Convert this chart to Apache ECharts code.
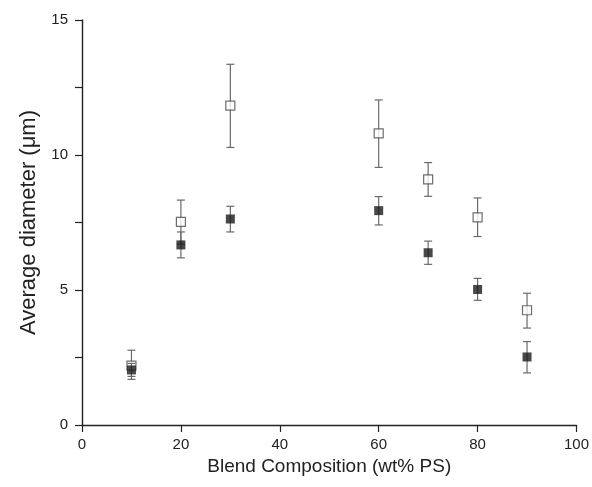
<!DOCTYPE html>
<html><head><meta charset="utf-8">
<script src="https://cdn.jsdelivr.net/npm/echarts@6/dist/echarts.min.js"></script>
<style>html,body{margin:0;padding:0;background:#fff}#c{width:592px;height:487px}</style>
</head><body><div id="c"></div>
<script>
const composition = [10, 20, 30, 60, 70, 80, 90];
const openMean = [2.2, 7.52, 11.83, 10.8, 9.1, 7.69, 4.25];
const openLow  = [1.8, 6.7, 10.28, 9.54, 8.47, 6.98, 3.59];
const openHigh = [2.77, 8.33, 13.36, 12.04, 9.72, 8.41, 4.88];
const filledMean = [2.04, 6.67, 7.63, 7.94, 6.38, 5.02, 2.52];
const filledLow  = [1.69, 6.19, 7.15, 7.41, 5.95, 4.62, 1.93];
const filledHigh = [2.28, 7.15, 8.1, 8.46, 6.81, 5.43, 3.09];
const yTicks = [0, 5, 10, 15];
const xTicks = [0, 20, 40, 60, 80, 100];

const font = '"Liberation Sans", Arial, sans-serif';
function errData(low, high){ return composition.map((x,i)=>[x, low[i], high[i]]); }
function errSeries(low, high, z){
  return {
    type:'custom', z:z, silent:true,
    data: errData(low, high),
    renderItem: function(params, api){
      const x = api.value(0);
      const lo = api.coord([x, api.value(1)]);
      const hi = api.coord([x, api.value(2)]);
      const w = 4;
      const st = {stroke:'#6a6a6a', lineWidth:1.2};
      return {type:'group', children:[
        {type:'line', shape:{x1:lo[0],y1:lo[1],x2:hi[0],y2:hi[1]}, style:st},
        {type:'line', shape:{x1:lo[0]-w,y1:lo[1],x2:lo[0]+w,y2:lo[1]}, style:st},
        {type:'line', shape:{x1:hi[0]-w,y1:hi[1],x2:hi[0]+w,y2:hi[1]}, style:st}
      ]};
    }
  };
}
const chart = echarts.init(document.getElementById('c'), null, {renderer:'canvas'});
chart.setOption({
  animation:false,
  backgroundColor:'#fff',
  grid:{left:82, right:12, top:20, bottom:62},
  xAxis:{
    type:'value', min:xTicks[0], max:xTicks[xTicks.length-1], interval:20,
    name:'Blend Composition (wt% PS)', nameLocation:'middle', nameGap:32,
    nameTextStyle:{fontFamily:font, fontSize:19, color:'#222'},
    axisLine:{lineStyle:{color:'#222', width:1.4}},
    axisTick:{length:7, lineStyle:{color:'#222', width:1.2}},
    axisLabel:{fontFamily:font, fontSize:15, color:'#222', margin:12},
    splitLine:{show:false}
  },
  yAxis:{
    type:'value', min:yTicks[0], max:yTicks[yTicks.length-1], interval:5,
    name:'Average diameter (\u03bcm)', nameLocation:'middle', nameGap:41,
    nameTextStyle:{fontFamily:font, fontSize:22, color:'#222'},
    axisLine:{show:true, lineStyle:{color:'#222', width:1.4}},
    axisTick:{show:true, length:7, lineStyle:{color:'#222', width:1.2}},
    minorTick:{show:true, splitNumber:2, length:7, lineStyle:{color:'#222', width:1.2}},
    axisLabel:{fontFamily:font, fontSize:15, color:'#222', margin:14},
    splitLine:{show:false}
  },
  series:[
    errSeries(openLow, openHigh, 2),
    {type:'scatter', z:3, symbol:'rect', symbolSize:9,
     itemStyle:{color:'#fff', borderColor:'#4a4a4a', borderWidth:1.2},
     data: composition.map((x,i)=>[x, openMean[i]])},
    errSeries(filledLow, filledHigh, 4),
    {type:'scatter', z:5, symbol:'rect', symbolSize:9,
     itemStyle:{color:'#1a1a1a'},
     data: composition.map((x,i)=>[x, filledMean[i]])}
  ]
});
</script></body></html>
